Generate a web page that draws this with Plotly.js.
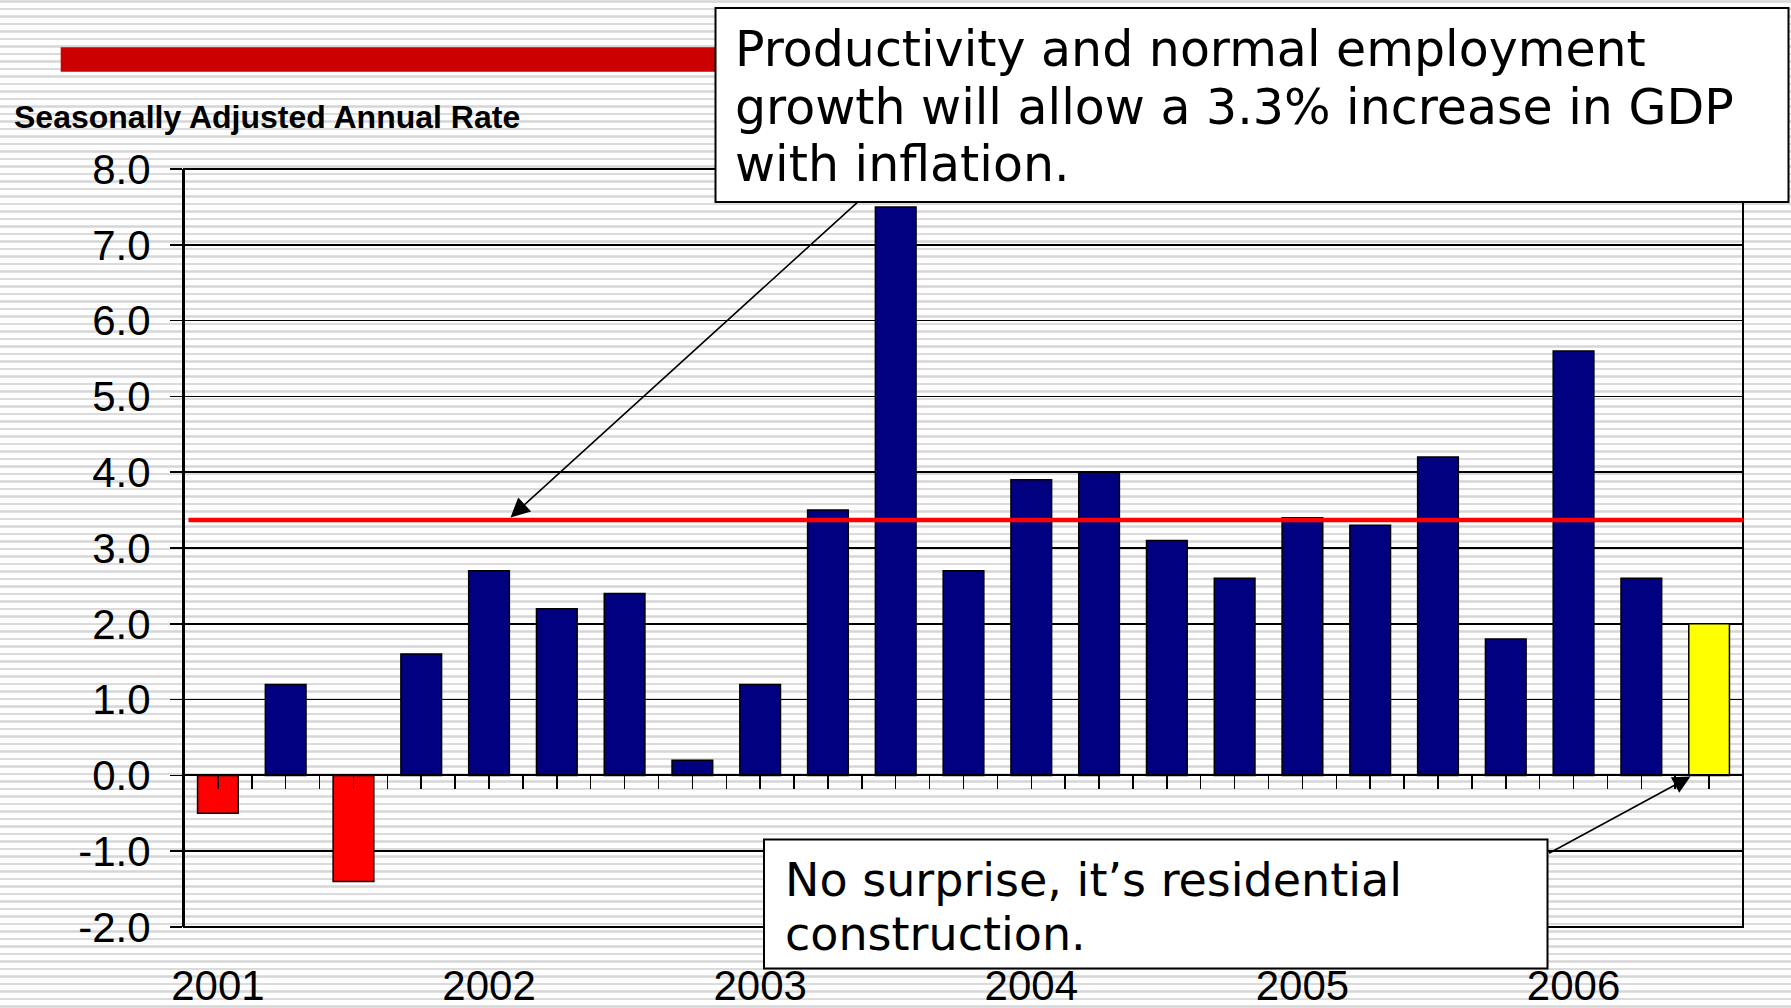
<!DOCTYPE html>
<html>
<head>
<meta charset="utf-8">
<script src="https://cdn.plot.ly/plotly-3.0.1.min.js"></script>
<style>
  html, body { margin: 0; padding: 0; width: 1791px; height: 1008px; overflow: hidden; }
  body {
    background: repeating-linear-gradient(180deg,
      #fefefe 0px, #e2e2e2 0.3px, #d6d6d6 1.5px, #e2e2e2 2.7px, #fefefe 2.8px, #fefefe 7.5px);
  }
  #chart { width: 1791px; height: 1008px; }
</style>
</head>
<body>
<div id="chart"></div>
<script>
// ---------- data ----------
const quarters = ['2001 Q1','2001 Q2','2001 Q3','2001 Q4',
                  '2002 Q1','2002 Q2','2002 Q3','2002 Q4',
                  '2003 Q1','2003 Q2','2003 Q3','2003 Q4',
                  '2004 Q1','2004 Q2','2004 Q3','2004 Q4',
                  '2005 Q1','2005 Q2','2005 Q3','2005 Q4',
                  '2006 Q1','2006 Q2','2006 Q3'];
const gdpGrowth = [-0.5, 1.2, -1.4, 1.6,
                   2.7, 2.2, 2.4, 0.2,
                   1.2, 3.5, 7.5, 2.7,
                   3.9, 4.0, 3.1, 2.6,
                   3.4, 3.3, 4.2, 1.8,
                   5.6, 2.6, 2.0];
const yearLabels = ['2001','2002','2003','2004','2005','2006'];
const potentialGrowth = 3.37;
const yTickValues = [-2, -1, 0, 1, 2, 3, 4, 5, 6, 7, 8];
const axisNote = 'Seasonally Adjusted Annual Rate';
const topNoteLines = ['Productivity and normal employment',
                      'growth will allow a 3.3% increase in GDP',
                      'with inflation.'];
const bottomNoteLines = ['No surprise, it\u2019s residential',
                         'construction.'];

// ---------- layout helpers ----------
const W = 1791, H = 1008;
const M = {l: 184, r: 48, t: 169, b: 81};
const PW = W - M.l - M.r, PH = H - M.t - M.b;
const px = x => (x - M.l) / PW;            // pixel -> paper x
const py = y => (H - M.b - y) / PH;        // pixel -> paper y

const xIdx = quarters.map((_, i) => i);
const barColors = gdpGrowth.map((v, i) =>
  i === gdpGrowth.length - 1 ? '#FFFF00' : (v < 0 ? '#FF0000' : '#000080'));

// x ticks at every half category; year labels on first quarter of each year
const xTickVals = [], xTickText = [];
for (let t = -0.5; t <= quarters.length - 0.5 + 1e-9; t += 0.5) {
  xTickVals.push(t);
  const isYear = Number.isInteger(t) && t % 4 === 0;
  xTickText.push(isYear ? yearLabels[t / 4] : '');
}

const tickFont = {family: 'Liberation Sans, Arial, sans-serif', size: 42, color: '#000'};
const noteFont = {family: 'DejaVu Sans, Verdana, sans-serif', size: 49, color: '#000'};

const trace = {
  type: 'bar',
  x: xIdx,
  y: gdpGrowth,
  width: 0.6,
  text: quarters,
  hoverinfo: 'text+y',
  textposition: 'none',
  marker: {color: barColors, line: {color: '#000', width: 1.5}}
};

const annotations = [];
annotations.push({
  xref: 'paper', yref: 'paper', x: px(12), y: py(117),
  xanchor: 'left', yanchor: 'middle', showarrow: false,
  text: axisNote,
  font: {family: 'Liberation Sans, Arial, sans-serif', size: 32, color: '#000', weight: 700}
});
const topY = [50, 107.5, 165];
topNoteLines.forEach((t, i) => annotations.push({
  xref: 'paper', yref: 'paper', x: px(733), y: py(topY[i]),
  xanchor: 'left', yanchor: 'middle', showarrow: false, text: t, font: noteFont
}));
const botY = [879.5, 934];
bottomNoteLines.forEach((t, i) => annotations.push({
  xref: 'paper', yref: 'paper', x: px(783), y: py(botY[i]),
  xanchor: 'left', yanchor: 'middle', showarrow: false, text: t,
  font: Object.assign({}, noteFont, {size: 46})
}));
// arrows
annotations.push({
  xref: 'paper', yref: 'paper', x: px(510.5), y: py(517.4),
  ax: 860 - 510.5, ay: 200 - 517.4, text: '', showarrow: true,
  arrowhead: 2, arrowsize: 2.4, arrowwidth: 1.6, arrowcolor: '#000', standoff: 0, startstandoff: 0
});
annotations.push({
  xref: 'paper', yref: 'paper', x: px(1690.5), y: py(776.6),
  ax: 1547.5 - 1690.5, ay: 854 - 776.6, text: '', showarrow: true,
  arrowhead: 2, arrowsize: 2.2, arrowwidth: 1.6, arrowcolor: '#000', standoff: 0, startstandoff: 0
});

const shapes = [
  // plot frame
  {type: 'rect', xref: 'paper', yref: 'paper', x0: 0, x1: 1, y0: 0, y1: 1,
   line: {color: '#000', width: 2}, fillcolor: 'rgba(0,0,0,0)', layer: 'between'},
  // potential growth line
  {type: 'line', xref: 'paper', yref: 'y', x0: px(188.5), x1: 1, y0: potentialGrowth, y1: potentialGrowth,
   line: {color: '#FF0000', width: 4.5}, layer: 'above'},
  // red title bar
  {type: 'rect', xref: 'paper', yref: 'paper', x0: px(60.7), x1: px(730), y0: py(71.7), y1: py(47.3),
   line: {width: 0}, fillcolor: '#CC0000', layer: 'above'},
  // top note box
  {type: 'rect', xref: 'paper', yref: 'paper', x0: px(715.5), x1: px(1788.5), y0: py(202), y1: py(8),
   line: {color: '#000', width: 2}, fillcolor: '#FFFFFF', layer: 'above'},
  // bottom note box
  {type: 'rect', xref: 'paper', yref: 'paper', x0: px(764), x1: px(1547.5), y0: py(968.5), y1: py(839.5),
   line: {color: '#000', width: 2}, fillcolor: '#FFFFFF', layer: 'above'}
];

const layout = {
  width: W, height: H,
  margin: M,
  paper_bgcolor: 'rgba(0,0,0,0)',
  plot_bgcolor: 'rgba(0,0,0,0)',
  showlegend: false,
  bargap: 0.4,
  xaxis: {
    range: [-0.5, quarters.length - 0.5],
    anchor: 'free', position: 0.2,
    showline: true, linecolor: '#000', linewidth: 2,
    ticks: 'outside', ticklen: 13, tickwidth: 1.5, tickcolor: '#000',
    tickmode: 'array', tickvals: xTickVals, ticktext: xTickText,
    tickfont: tickFont, ticklabelstandoff: 160,
    showgrid: false, zeroline: false, fixedrange: true
  },
  yaxis: {
    range: [-2, 8],
    tickmode: 'array', tickvals: yTickValues,
    ticktext: yTickValues.map(v => v.toFixed(1)),
    ticks: 'outside', ticklen: 12, tickwidth: 1.5, tickcolor: '#000',
    tickfont: tickFont, ticklabelstandoff: 11,
    showgrid: true, gridcolor: '#000', gridwidth: 1.5,
    zeroline: false, showline: true, linecolor: '#000', linewidth: 2,
    fixedrange: true
  },
  shapes: shapes,
  annotations: annotations
};

Plotly.newPlot('chart', [trace], layout, {displayModeBar: false, staticPlot: true});
</script>
</body>
</html>
